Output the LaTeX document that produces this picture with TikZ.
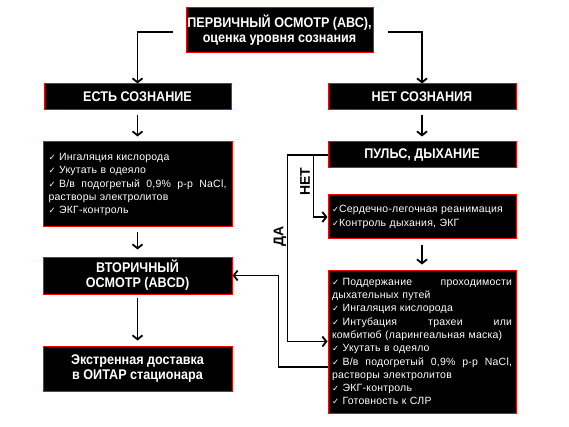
\documentclass[tikz,border=0pt]{standalone}
\usepackage{fontspec}
\setmainfont{Liberation Sans}[LetterSpace=2]
\newfontfamily\dv{DejaVu Sans}
\newfontfamily\tf{Liberation Sans}[FakeStretch=0.9]
\newfontfamily\lf{Liberation Sans}
\usetikzlibrary{arrows.meta,calc}
\newcommand{\ck}{{\dv\fontsize{8.5}{8}\selectfont ✓}}
\newcommand{\cks}{\ck\kern3.5pt}
\newcommand{\jl}[1]{{\spaceskip=0pt\xspaceskip=0pt\makebox[\hsize][s]{#1}}}
\begin{document}
\begin{tikzpicture}[x=1pt,y=-1pt,
  box/.style={draw=red,line width=1pt,fill=black,text=white,inner sep=0pt,align=center},
  title/.style={box,font=\tf\bfseries\fontsize{14}{15}\selectfont},
  listbox/.style={box,font=\fontsize{10.5}{13.3}\selectfont,text width=180pt,align=left},
  conn/.style={line width=1.8pt,-{Straight Barb[length=4pt,width=10pt,line width=1.8pt]}},
  lbl/.style={font=\lf\bfseries\fontsize{14}{14}\selectfont,inner sep=0pt}]
\useasboundingbox (0,0) rectangle (569,427);
\node[title,minimum width=187pt,minimum height=45pt] (top) at (279.5,30.5)
  {ПЕРВИЧНЫЙ ОСМОТР (АВС),\\оценка уровня сознания};
\node[title,minimum width=187pt,minimum height=26pt] (est) at (137.5,97) {ЕСТЬ СОЗНАНИЕ};
\node[title,minimum width=188pt,minimum height=26pt] (net) at (422,97) {НЕТ СОЗНАНИЯ};
\node[listbox,text width=178pt,minimum width=189pt,minimum height=85pt] (lb) at (137.5,184.5)
  {\cks Ингаляция кислорода\\
   \cks Укутать в одеяло\\
   \jl{\cks В/в подогретый 0,9\% р-р NaCl,}\\
   растворы электролитов\\
   \cks ЭКГ-контроль};
\node[title,minimum width=188pt,minimum height=26pt] (pulse) at (422,155) {ПУЛЬС, ДЫХАНИЕ};
\node[listbox,minimum width=188pt,minimum height=44pt] (rb) at (422,217)
  {\ck Сердечно-легочная реанимация\\
   \ck Контроль дыхания, ЭКГ};
\node[title,minimum width=189pt,minimum height=37pt] (vt) at (137.5,275.5)
  {ВТОРИЧНЫЙ\\ОСМОТР (ABCD)};
\node[title,minimum width=189pt,minimum height=45pt] (ex) at (137.5,368.5)
  {Экстренная доставка\\в ОИТАР стационара};
\node[listbox,minimum width=188pt,minimum height=143pt] (big) at (422,341.5)
  {\jl{\cks Поддержание проходимости}\\
   дыхательных путей\\
   \cks Ингаляция кислорода\\
   \jl{\cks Интубация трахеи или}\\
   комбитюб (ларингеальная маска)\\
   \cks Укутать в одеяло\\
   \jl{\cks В/в подогретый 0,9\% р-р NaCl,}\\
   растворы электролитов\\
   \cks ЭКГ-контроль\\
   \cks Готовность к СЛР};
\node[lbl,rotate=90] (netlbl) at (305,182) {НЕТ};
\node[lbl,rotate=90] (dalbl) at (280,236) {ДА};
\coordinate (tl) at ($(top.west)+(-13,1.5)$);
\coordinate (tr) at ($(top.east)+(14,1.5)$);
\draw[conn] (tl) -| (est.north);
\draw[conn] (tr) -| (net.north);
\draw[conn,shorten <=5pt,shorten >=5pt] (est.south) -- (lb.north);
\draw[conn,shorten <=5pt,shorten >=5pt] (net.south) -- (pulse.north);
\draw[conn,shorten <=5pt,shorten >=7pt] (lb.south) -- (vt.north);
\draw[conn,shorten <=3pt,shorten >=5pt] (vt.south) -- (ex.north);
\draw[conn,shorten <=6pt,shorten >=5pt] (rb.south) -- (big.north);
\draw[conn] (pulse.west) -- ++(-40,0) |- (big.west);
\draw[conn] ($(pulse.west)+(-14,0)$) |- (rb.west);
\draw[conn] ($(big.west)+(0,25.5)$) -- ++(-49,0) |- (vt.east);
\end{tikzpicture}
\end{document}
